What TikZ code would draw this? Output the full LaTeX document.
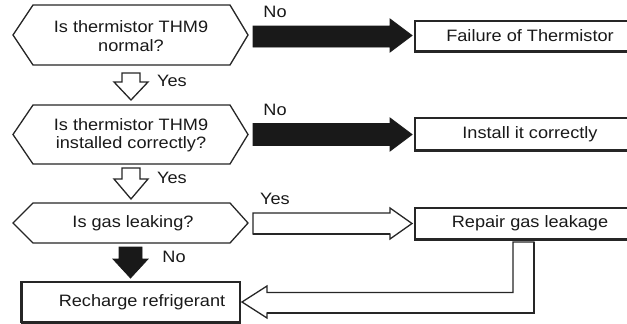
\documentclass[tikz,border=0pt]{standalone}
\usepackage{fontspec}
\setmainfont{Liberation Sans}
\newfontfamily\widesans[FakeStretch=1.1]{Liberation Sans}
\begin{document}
\begin{tikzpicture}[x=1pt,y=-1pt,
  lbl/.style={font=\widesans\fontsize{16.5}{18.5}\selectfont, inner sep=0pt, text=black!90},
  txt/.style={font=\widesans\fontsize{16.5}{18.5}\selectfont, inner sep=0pt, align=center, text=black!90},
  hexa/.style={draw=black!85, line width=1.3pt, line join=miter, fill=white},
  box/.style={draw=black!85, line width=1.7pt, rectangle, inner sep=0pt},
  solidarrow/.style={fill=black!90, draw=black!90, line width=0.8pt, line join=miter},
  openarrow/.style={fill=white, draw=black!85, line width=1.3pt, line join=miter}]
\useasboundingbox (0,0) rectangle (627,324);

% decision hexagons
\draw[hexa] (13,35) -- (33,5) -- (230,5) -- (248,35) -- (230,65) -- (33,65) -- cycle;
\node[txt] (q1) at (131,36) {Is thermistor THM9\\normal?};
\draw[hexa] (13,134.5) -- (33,105) -- (230,105) -- (248,134.5) -- (230,164) -- (33,164) -- cycle;
\node[txt] (q2) at (131,135) {Is thermistor THM9\\installed correctly?};
\draw[hexa] (13,223) -- (33,203) -- (230,203) -- (248,223) -- (230,243) -- (33,243) -- cycle;
\node[txt] (q3) at (133,223) {Is gas leaking?};

% action boxes
\node[box, minimum width=230, minimum height=30] (b1) at (530,36) {};
\node[txt] (t1) at (530,36) {Failure of Thermistor};
\node[box, minimum width=230, minimum height=32] (b2) at (530,134) {};
\node[txt] (t2) at (530,134) {Install it correctly};
\node[box, minimum width=230, minimum height=31] (b3) at (530,223.5) {};
\node[txt] (t3) at (530,223.5) {Repair gas leakage};
\node[box, minimum width=218, minimum height=40] (b4) at (131,302) {};
\node[txt] (t4) at (142,302) {Recharge refrigerant};

% heavier bottom edges
\draw[line width=2.6pt, black!85] (b1.south west) -- (b1.south east);
\draw[line width=2.6pt, black!85] (b2.south west) -- (b2.south east);
\draw[line width=2.6pt, black!85] (b3.south west) -- (b3.south east);
\draw[line width=2.8pt, black!85] (b4.south west) -- (b4.south east);
\draw[line width=2.8pt, black!85] (b4.south west) -- (b4.north west);

% "No" branches
\draw[solidarrow] (253,26) -- (390,26) -- (390,19) -- (412,35.5) -- (390,52) -- (390,47) -- (253,47) -- cycle;
\draw[solidarrow] (253,123.5) -- (390,123.5) -- (390,118) -- (412,134.5) -- (390,151) -- (390,145.5) -- (253,145.5) -- cycle;
\draw[solidarrow] (119,247) -- (142,247) -- (142,259) -- (148,259) -- (130.5,278) -- (113,259) -- (119,259) -- cycle;

% "Yes" branches
\draw[openarrow] (122,73) -- (140,73) -- (140,82) -- (148,82) -- (131,100) -- (114,82) -- (122,82) -- cycle;
\draw[openarrow] (122,168) -- (140,168) -- (140,179) -- (148,179) -- (131,199) -- (114,179) -- (122,179) -- cycle;
\draw[openarrow] (253,213) -- (390,213) -- (390,208) -- (412,223.5) -- (390,239) -- (390,234) -- (253,234) -- cycle;
\draw[line width=2.4pt, black!85] (253,234) -- (390,234);

% return path from repair to recharge
\draw[openarrow] (513,242) -- (534,242) -- (534,313) -- (267,313) -- (267,318) -- (242,302) -- (267,286) -- (267,292.5) -- (513,292.5) -- cycle;
\draw[line width=2.2pt, black!85] (534,242) -- (534,313) -- (267,313);

% branch labels
\node[lbl] (n1) at (275,12) {No};
\node[lbl] (y1) at (172,81) {Yes};
\node[lbl] (n2) at (275,110) {No};
\node[lbl] (y2) at (172,178) {Yes};
\node[lbl] (y3) at (275,199) {Yes};
\node[lbl] (n3) at (174,257) {No};
\end{tikzpicture}
\end{document}
